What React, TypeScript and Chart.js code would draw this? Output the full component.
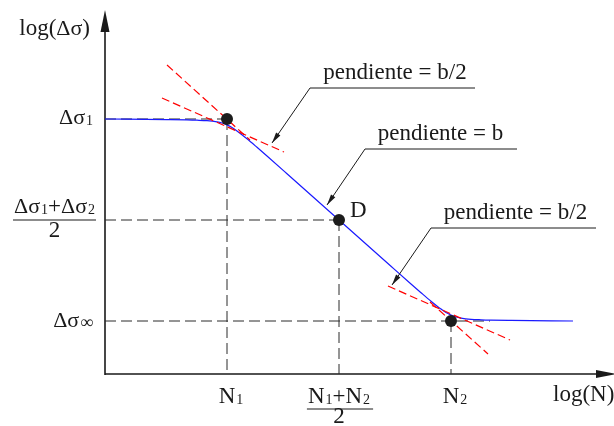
import React, { useEffect, useRef } from "react";
import { Chart, registerables } from "chart.js";

Chart.register(...registerables);

// ---- Plot units: x = log(N), y = log(Δσ), origin at the axes' corner ----
const LEVEL_S1 = 255; // Δσ1
const LEVEL_MID = 154; // (Δσ1+Δσ2)/2
const LEVEL_INF = 53; // Δσ∞
const TICK_N1 = 122;
const TICK_MID = 234;
const TICK_N2 = 346;
const AXIS_X_END = 511;
const AXIS_Y_END = 364;

// S-N curve: plateau, straight branch of slope b, lower plateau
const curveX = [0, 62, 82, 92, 102, 112, 117, 122, 127, 132, 142, 152, 162, 182, 286, 306, 316, 326, 336, 341, 346, 351, 356, 366, 376, 386, 406, 468];
const curveY = [255, 254.4, 254.1, 253.8, 253.3, 252.1, 251.0, 249.1, 246.5, 243.1, 235.2, 226.7, 218.0, 200.3, 107.7, 90.0, 81.3, 72.8, 64.9, 61.5, 58.9, 57.0, 55.9, 54.7, 54.2, 53.9, 53.6, 53];

// Tangent lines (red dashed)
const steepN1X = [62, 145];
const steepN1Y = [309, 234];
const halfN1X = [57, 179];
const halfN1Y = [276, 222];
const halfN2X = [283, 405];
const halfN2Y = [88, 34];
const steepN2X = [325, 383];
const steepN2Y = [72, 20];

// Characteristic points N1, D, N2
const markX = [TICK_N1, TICK_MID, TICK_N2];
const markY = [LEVEL_S1, LEVEL_MID, LEVEL_INF];

// Leader notes: text, text centre / baseline, elbow, end of underline, arrow tip
const notes = [
  { text: "pendiente = b/2", tx: 290, ty: 295, ex: 205, ey: 286, ux: 370, ax: 167, ay: 231 },
  { text: "pendiente = b", tx: 335.5, ty: 234, ex: 260, ey: 225, ux: 412, ax: 222, ay: 169 },
  { text: "pendiente = b/2", tx: 410.5, ty: 155, ex: 326, ey: 146, ux: 491, ax: 287, ay: 89 },
];

const FONT = "'Liberation Serif', 'Times New Roman', serif";
const MAIN = 23;
const GREEK = 22;
const SUB = 14;
const INK = "#1a1a1a";

type Part = { t: string; sub?: boolean; size?: number };

function richWidth(ctx: CanvasRenderingContext2D, parts: Part[]) {
  let w = 0;
  for (const p of parts) {
    const size = p.size ?? (p.sub ? SUB : MAIN);
    ctx.font = `${size}px ${FONT}`;
    w += ctx.measureText(p.t).width + (p.sub ? 1 : 0);
  }
  return w;
}

function drawRich(ctx: CanvasRenderingContext2D, parts: Part[], x: number, y: number, align: "left" | "right" | "center") {
  const w = richWidth(ctx, parts);
  let cx = align === "left" ? x : align === "right" ? x - w : x - w / 2;
  ctx.textAlign = "left";
  ctx.textBaseline = "alphabetic";
  for (const p of parts) {
    const size = p.size ?? (p.sub ? SUB : MAIN);
    ctx.font = `${size}px ${FONT}`;
    if (p.sub) cx += 1;
    ctx.fillText(p.t, cx, y + (p.sub ? 1 : 0));
    cx += ctx.measureText(p.t).width;
  }
  return w;
}

function arrowHead(ctx: CanvasRenderingContext2D, fx: number, fy: number, tx: number, ty: number, len: number, hw: number) {
  const a = Math.atan2(ty - fy, tx - fx);
  const bx = tx - Math.cos(a) * len;
  const by = ty - Math.sin(a) * len;
  ctx.beginPath();
  ctx.moveTo(tx, ty);
  ctx.lineTo(bx + Math.sin(a) * hw, by - Math.cos(a) * hw);
  ctx.lineTo(bx - Math.sin(a) * hw, by + Math.cos(a) * hw);
  ctx.closePath();
  ctx.fill();
}

const diagramPlugin = {
  id: "snDiagram",
  beforeDatasetsDraw(chart: Chart) {
    const ctx = chart.ctx;
    const sx = chart.scales.x;
    const sy = chart.scales.y;
    const ox = sx.getPixelForValue(0);
    const oy = sy.getPixelForValue(0);
    const topY = sy.getPixelForValue(AXIS_Y_END);
    const rightX = sx.getPixelForValue(AXIS_X_END);
    ctx.save();
    ctx.strokeStyle = INK;
    ctx.fillStyle = INK;
    ctx.lineWidth = 1.6;
    ctx.beginPath();
    ctx.moveTo(ox, oy + 1);
    ctx.lineTo(ox, topY + 10);
    ctx.moveTo(ox, oy);
    ctx.lineTo(rightX - 10, oy);
    ctx.stroke();
    arrowHead(ctx, ox, oy, ox, topY, 22, 4.5);
    arrowHead(ctx, ox, oy, rightX, oy, 20, 4);
    ctx.restore();
  },
  afterDatasetsDraw(chart: Chart) {
    const ctx = chart.ctx;
    const sx = chart.scales.x;
    const sy = chart.scales.y;
    const X = (v: number) => sx.getPixelForValue(v);
    const Y = (v: number) => sy.getPixelForValue(v);
    const ox = X(0);
    const oy = Y(0);
    ctx.save();
    ctx.fillStyle = INK;
    ctx.strokeStyle = INK;

    // axis titles
    drawRich(ctx, [{ t: "log(" }, { t: "Δσ", size: GREEK }, { t: ")" }], ox - 15, Y(AXIS_Y_END) + 25, "right");
    drawRich(ctx, [{ t: "log(N)" }], X(AXIS_X_END) - 63, oy + 27, "left");

    // stress-range levels
    const lx = ox - 12;
    drawRich(ctx, [{ t: "Δσ", size: GREEK }, { t: "1", sub: true }], lx, Y(LEVEL_S1) + 5, "right");
    drawRich(ctx, [{ t: "Δσ", size: GREEK }, { t: "∞", sub: true, size: 18 }], lx, Y(LEVEL_INF) + 6, "right");
    {
      const num: Part[] = [
        { t: "Δσ", size: GREEK },
        { t: "1", sub: true },
        { t: "+" },
        { t: "Δσ", size: GREEK },
        { t: "2", sub: true },
      ];
      const barY = Y(LEVEL_MID);
      const w = richWidth(ctx, num);
      const right = ox - 10;
      drawRich(ctx, num, right, barY - 7, "right");
      ctx.lineWidth = 1.2;
      ctx.beginPath();
      ctx.moveTo(right - w - 1, barY);
      ctx.lineTo(right + 1, barY);
      ctx.stroke();
      drawRich(ctx, [{ t: "2" }], right - w / 2, barY + 17, "center");
    }

    // life ticks
    const base = oy + 29;
    const nLabel = (sub: string, x: number) => {
      ctx.font = `${MAIN}px ${FONT}`;
      const nw = ctx.measureText("N").width;
      drawRich(ctx, [{ t: "N" }, { t: sub, sub: true }], x - nw / 2, base, "left");
    };
    nLabel("1", X(TICK_N1));
    nLabel("2", X(TICK_N2));
    {
      const num: Part[] = [{ t: "N" }, { t: "1", sub: true }, { t: "+" }, { t: "N" }, { t: "2", sub: true }];
      const cx = X(TICK_MID);
      const w = richWidth(ctx, num);
      drawRich(ctx, num, cx, base, "center");
      ctx.lineWidth = 1.2;
      ctx.beginPath();
      ctx.moveTo(cx - w / 2 - 1, oy + 35);
      ctx.lineTo(cx + w / 2 + 3, oy + 35);
      ctx.stroke();
      drawRich(ctx, [{ t: "2" }], cx, oy + 49, "center");
    }

    // point D
    drawRich(ctx, [{ t: "D" }], X(TICK_MID) + 11, Y(LEVEL_MID) - 3, "left");

    // leader notes
    for (const n of notes) {
      drawRich(ctx, [{ t: n.text }], X(n.tx), Y(n.ty), "center");
      ctx.lineWidth = 1;
      ctx.beginPath();
      ctx.moveTo(X(n.ux), Y(n.ey));
      ctx.lineTo(X(n.ex), Y(n.ey));
      ctx.lineTo(X(n.ax), Y(n.ay));
      ctx.stroke();
      arrowHead(ctx, X(n.ex), Y(n.ey), X(n.ax), Y(n.ay), 11, 2.6);
    }
    ctx.restore();
  },
};

export default function App() {
  const ref = useRef<HTMLCanvasElement>(null);

  useEffect(() => {
    const canvas = ref.current;
    if (!canvas) return;
    const pts = (xs: number[], ys: number[]) => xs.map((x, i) => ({ x, y: ys[i] }));
    const seg = (xs: number[], ys: number[], color: string, dash: number[], order: number, width = 1, extra = {}) => ({
      data: pts(xs, ys),
      showLine: true,
      borderColor: color,
      borderWidth: width,
      borderDash: dash,
      pointRadius: 0,
      fill: false,
      order,
      ...extra,
    });
    const guide = "#2a2a2a";
    const gDash = [11, 5];
    const red = "#ff0000";
    const rDash = [8, 4];

    const datasets: any[] = [
      // dashed guides
      seg([0, TICK_N1], [LEVEL_S1, LEVEL_S1], guide, gDash, 5),
      seg([TICK_N1, TICK_N1], [LEVEL_S1, 0], guide, gDash, 5),
      seg([0, TICK_MID], [LEVEL_MID, LEVEL_MID], guide, gDash, 5),
      seg([TICK_MID, TICK_MID], [LEVEL_MID, 0], guide, gDash, 5),
      seg([0, 385], [LEVEL_INF, LEVEL_INF], guide, gDash, 5),
      seg([TICK_N2, TICK_N2], [LEVEL_INF, 0], guide, gDash, 5),
      // S-N curve
      seg(curveX, curveY, "#1a1aff", [], 3, 1.2, { cubicInterpolationMode: "monotone" }),
      // tangents
      seg(steepN1X, steepN1Y, red, rDash, 2, 1.2),
      seg(halfN1X, halfN1Y, red, rDash, 2, 1.2),
      seg(halfN2X, halfN2Y, red, rDash, 2, 1.2),
      seg(steepN2X, steepN2Y, red, rDash, 2, 1.2),
      // points
      {
        data: pts(markX, markY),
        showLine: false,
        pointRadius: 6,
        pointBackgroundColor: "#1c1c1c",
        pointBorderColor: "#1c1c1c",
        pointBorderWidth: 0,
        order: 0,
      },
    ];

    const chart = new Chart(canvas, {
      type: "scatter",
      data: { datasets },
      options: {
        responsive: false,
        animation: false,
        devicePixelRatio: 1,
        events: [],
        layout: { padding: 0, autoPadding: false },
        plugins: { legend: { display: false }, tooltip: { enabled: false } },
        scales: {
          x: { type: "linear", min: -105, max: 509, display: false },
          y: { type: "linear", min: -52, max: 374, display: false },
        },
      },
      plugins: [diagramPlugin as any],
    });
    return () => chart.destroy();
  }, []);

  return (
    <div style={{ position: "fixed", left: 0, top: 0, width: 614, height: 426, background: "#fff" }}>
      <canvas ref={ref} width={614} height={426} style={{ display: "block" }} />
    </div>
  );
}
